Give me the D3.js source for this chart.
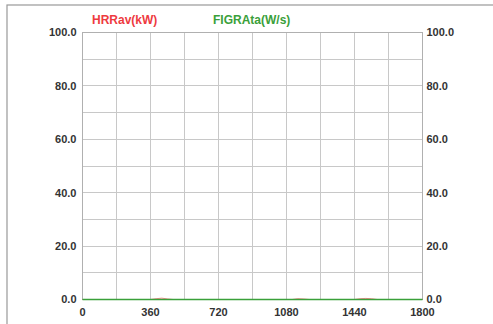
<!DOCTYPE html>
<html><head><meta charset="utf-8">
<script src="https://cdn.jsdelivr.net/npm/d3@7/dist/d3.min.js"></script>
<style>html,body{margin:0;padding:0;background:#fff;}svg{display:block;}</style>
</head><body>
<script>
// Data
const times = [0,30,60,90,120,150,180,210,240,270,300,330,360,390,420,450,480,510,540,570,600,630,660,690,720,750,780,810,840,870,900,930,960,990,1020,1050,1080,1110,1140,1170,1200,1230,1260,1290,1320,1350,1380,1410,1440,1470,1500,1530,1560,1590,1620,1650,1680,1710,1740,1770,1800];
const hrrValues = [0,0,0,0,0,0,0,0,0,0,0,0,0,0.3,0.5,0.2,0,0,0,0,0,0,0,0,0,0,0,0,0,0,0,0,0,0,0,0,0,0,0.3,0.2,0,0,0,0,0,0,0,0,0,0.3,0.4,0.3,0,0,0,0,0,0,0,0,0];
const figraValues = [0,0,0,0,0,0,0,0,0,0,0,0,0,0,0,0,0,0,0,0,0,0,0,0,0,0,0,0,0,0,0,0,0,0,0,0,0,0,0,0,0,0,0,0,0,0,0,0,0,0,0,0,0,0,0,0,0,0,0,0,0];
const xTickLabels = [0,360,720,1080,1440,1800];
const xGrid = [0,180,360,540,720,900,1080,1260,1440,1620,1800];
const yTicks = [0,20,40,60,80,100];
const yGrid = [0,10,20,30,40,50,60,70,80,90,100];
const seriesNames = ["HRRav(kW)","FIGRAta(W/s)"];
const seriesColors = ["#ee3a40","#3aa03a"];

const W = 493, H = 324;
const L = 82.5, R = 422.5, T = 32.5, B = 299.5;
const svg = d3.select("body").append("svg").attr("width",W).attr("height",H);

// outer frame
svg.append("rect").attr("x",7).attr("y",5).attr("width",W+10).attr("height",H+10)
  .attr("fill","none").attr("stroke","#999").attr("stroke-width",1.2);

const x = d3.scaleLinear().domain([0,1800]).range([L,R]);
const y = d3.scaleLinear().domain([0,100]).range([B,T]);

const g = svg.append("g");
g.selectAll(".vg").data(xGrid).enter().append("line")
  .attr("x1",d=>Math.round(x(d)-0.5)+0.5).attr("x2",d=>Math.round(x(d)-0.5)+0.5).attr("y1",T).attr("y2",B)
  .attr("stroke","#c8c8c8").attr("stroke-width",1);
g.selectAll(".hg").data(yGrid).enter().append("line")
  .attr("x1",L).attr("x2",R).attr("y1",d=>Math.round(y(d)-0.5)+0.5).attr("y2",d=>Math.round(y(d)-0.5)+0.5)
  .attr("stroke","#c8c8c8").attr("stroke-width",1);
g.append("rect").attr("x",L).attr("y",T).attr("width",R-L).attr("height",B-T)
  .attr("fill","none").attr("stroke","#b0b0b0").attr("stroke-width",1);

const font = "'Liberation Sans', Arial, sans-serif";
// y labels left
svg.selectAll(".yl").data(yTicks).enter().append("text")
  .attr("x",L-6).attr("y",d=>y(d)).attr("dy","0.35em").attr("text-anchor","end")
  .attr("font-family",font).attr("font-weight","bold").attr("font-size",11).attr("fill","#333")
  .text(d=>d3.format(".1f")(d));
// y labels right
svg.selectAll(".yr").data(yTicks).enter().append("text")
  .attr("x",R+4).attr("y",d=>y(d)).attr("dy","0.35em").attr("text-anchor","start")
  .attr("font-family",font).attr("font-weight","bold").attr("font-size",11).attr("fill","#333")
  .text(d=>d3.format(".1f")(d));
// x labels
svg.selectAll(".xl").data(xTickLabels).enter().append("text")
  .attr("x",d=>x(d)).attr("y",B+13).attr("dy","0.35em").attr("text-anchor","middle")
  .attr("font-family",font).attr("font-weight","bold").attr("font-size",11).attr("fill","#333")
  .text(d=>d);

// series
const line = d3.line().x((d,i)=>x(times[i])).y(d=>y(d));
svg.append("path").datum(hrrValues).attr("d",line).attr("fill","none")
  .attr("stroke",seriesColors[0]).attr("stroke-width",1).attr("opacity",0.6);
svg.append("path").datum(figraValues).attr("d",line).attr("fill","none")
  .attr("stroke",seriesColors[1]).attr("stroke-width",1.4);

// legend
const legX = [92,213];
svg.selectAll(".leg").data(seriesNames).enter().append("text")
  .attr("x",(d,i)=>legX[i]).attr("y",20).attr("dy","0.35em")
  .attr("font-family",font).attr("font-weight","bold").attr("font-size",12)
  .attr("fill",(d,i)=>seriesColors[i]).text(d=>d);
</script>
</body></html>
